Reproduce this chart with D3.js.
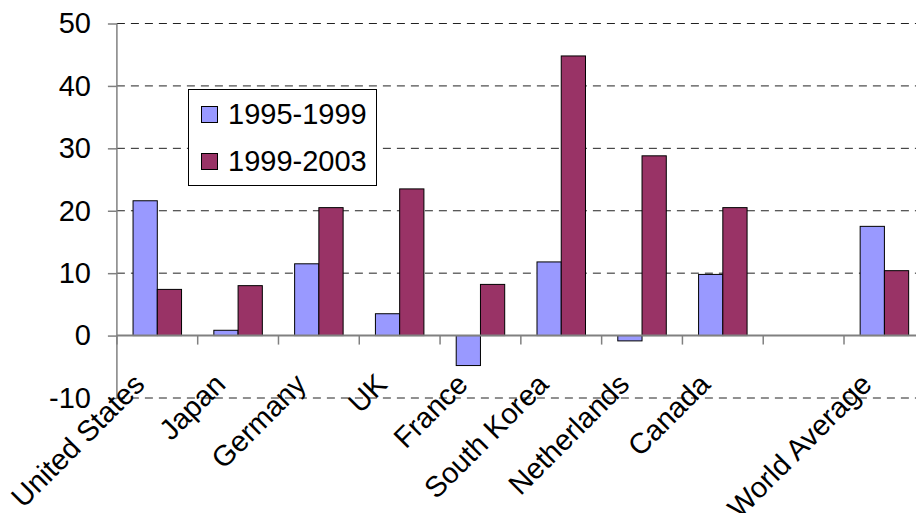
<!DOCTYPE html>
<html><head><meta charset="utf-8">
<script src="https://cdn.jsdelivr.net/npm/d3@7"></script>
<style>body{margin:0;background:#fff}svg{display:block}text{font-family:"Liberation Sans",Arial,sans-serif}</style>
</head><body><svg id="c" width="916" height="513"></svg>
<script>
const categories = ["United States","Japan","Germany","UK","France","South Korea","Netherlands","Canada","","World Average"];
const seriesNames = ["1995-1999","1999-2003"];
const values9599 = [21.6, 0.85, 11.5, 3.5, -4.8, 11.8, -0.85, 9.8, null, 17.5];
const values9903 = [7.4, 8.0, 20.5, 23.5, 8.2, 44.8, 28.8, 20.5, null, 10.4];
const yTicks = [-10, 0, 10, 20, 30, 40, 50];
const colors = ["#9999FF", "#993366"];

(function(){
const svg = d3.select("#c");
const pL = 116.9, pR = 924.8, pT = 23.5, pB = 398;
const FS = 29;
const keys = categories.map((c,i)=>i);
const x0 = d3.scaleBand().domain(keys).range([pL, pR]).paddingInner(0).paddingOuter(0);
const x1 = d3.scaleBand().domain([0,1]).range([0, x0.bandwidth()]).paddingInner(0).paddingOuter(0.666);
const y = d3.scaleLinear().domain([-10, 50]).range([pB, pT]);

// gridlines
svg.append("g").selectAll("line").data(yTicks.filter(t=>t!==0)).join("line")
  .attr("x1", pL).attr("x2", 916).attr("y1", d=>y(d)).attr("y2", d=>y(d))
  .attr("stroke", "#222").attr("stroke-width", 1).attr("stroke-dasharray", "8,6");

// y axis
const yAxis = d3.axisLeft(y).tickValues(yTicks).tickSize(9).tickPadding(17).tickFormat(d => String(d));
const ga = svg.append("g").attr("transform", `translate(${pL},0)`).call(yAxis);
ga.select(".domain").attr("stroke", "#808080").attr("stroke-width", 1.5).attr("d", `M0,${pT}V${pB}`);
ga.selectAll(".tick line").attr("stroke", "#808080").attr("stroke-width", 1.5);
ga.selectAll(".tick text").attr("font-size", FS).attr("fill", "#000").attr("font-family", '"Liberation Sans",Arial,sans-serif');

// bars
const data = keys.map(i => [values9599[i], values9903[i]]);
const g = svg.append("g");
keys.forEach(i => {
  [0,1].forEach(s => {
    const v = data[i][s];
    if (v === null) return;
    g.append("rect")
      .attr("x", x0(i) + x1(s)).attr("width", x1.bandwidth())
      .attr("y", y(Math.max(0, v))).attr("height", Math.abs(y(v) - y(0)))
      .attr("fill", colors[s]).attr("stroke", "#000").attr("stroke-width", 1);
  });
});

// zero axis
svg.append("line").attr("x1", pL).attr("x2", 916).attr("y1", y(0)).attr("y2", y(0))
  .attr("stroke", "#808080").attr("stroke-width", 2);
const bounds = keys.map(i => x0(i)).concat([pR]);
svg.append("g").selectAll("line").data(bounds).join("line")
  .attr("x1", d=>d).attr("x2", d=>d).attr("y1", y(0)).attr("y2", y(0)+9)
  .attr("stroke", "#808080").attr("stroke-width", 1.5);

// category labels
svg.append("g").selectAll("text").data(keys).join("text")
  .attr("transform", i => `translate(${x0(i)+x0.bandwidth()/2-11},386) rotate(-45)`)
  .attr("text-anchor", "end").attr("font-size", FS)
  .text(i => categories[i]);

// legend
const lg = svg.append("g");
lg.append("rect").attr("x", 188.5).attr("y", 89.5).attr("width", 188).attr("height", 96)
  .attr("fill", "#fff").attr("stroke", "#000").attr("stroke-width", 1);
seriesNames.forEach((n, i) => {
  lg.append("rect").attr("x", 201.5).attr("y", 106.5 + i*47).attr("width", 16).attr("height", 16)
    .attr("fill", colors[i]).attr("stroke", "#000").attr("stroke-width", 1);
  lg.append("text").attr("x", 228).attr("y", 124 + i*47).attr("font-size", FS).text(n);
});
})();
</script></body></html>
